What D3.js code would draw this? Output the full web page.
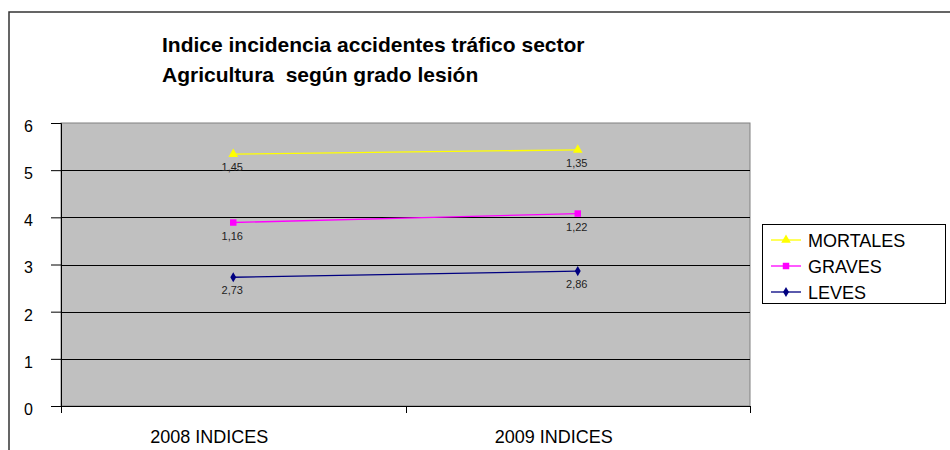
<!DOCTYPE html>
<html>
<head>
<meta charset="utf-8">
<script src="https://cdn.jsdelivr.net/npm/d3@7"></script>
<style>
  body { margin: 0; background: #fff; }
  text { font-family: "Liberation Sans", Arial, sans-serif; }
</style>
</head>
<body>
<svg id="chart" width="950" height="450"></svg>
<script>
// Categories and series (individual values, drawn stacked)
var years = ['2008 INDICES', '2009 INDICES'];
var leves = [2.73, 2.86];
var graves = [1.16, 1.22];
var mortales = [1.45, 1.35];
var yTicks = [0, 1, 2, 3, 4, 5, 6];

var seriesNames = ['LEVES', 'GRAVES', 'MORTALES'];
var seriesColors = {LEVES: '#000080', GRAVES: '#ff00ff', MORTALES: '#ffff00'};

var svg = d3.select('#chart');

// outer frame
svg.append('rect')
  .attr('x', 9).attr('y', 12)
  .attr('width', 960).attr('height', 460)
  .attr('fill', 'none')
  .attr('stroke', '#333').attr('stroke-width', 1.5);

// title
var title = svg.append('text')
  .style('font-size', '21px').style('font-weight', 'bold')
  .style('white-space', 'pre');
title.append('tspan').attr('x', 162).attr('y', 52).text('Indice incidencia accidentes tráfico sector');
title.append('tspan').attr('x', 162).attr('y', 82).text('Agricultura  según grado lesión');

var plot = {left: 61, top: 123, right: 750, bottom: 406};

// build the table the stack layout needs
var table = years.map(function(y, i) {
  return {year: y, LEVES: leves[i], GRAVES: graves[i], MORTALES: mortales[i]};
});
var stacked = d3.stack().keys(seriesNames)(table);

var scaleX = d3.scaleBand()
  .domain(years)
  .range([plot.left, plot.right]);
var scaleY = d3.scaleLinear()
  .domain([0, 6])
  .range([plot.bottom, plot.top]);

// plot background
svg.append('rect')
  .attr('x', plot.left).attr('y', plot.top)
  .attr('width', plot.right - plot.left).attr('height', plot.bottom - plot.top)
  .attr('fill', '#c0c0c0')
  .attr('stroke', '#808080').attr('stroke-width', 1);

// gridlines
svg.append('g')
  .selectAll('line')
  .data(yTicks.filter(function(d) { return d > 0 && d < 6; }))
  .enter().append('line')
  .attr('x1', plot.left).attr('x2', plot.right)
  .attr('y1', function(d) { return Math.round(scaleY(d)) + 0.5; })
  .attr('y2', function(d) { return Math.round(scaleY(d)) + 0.5; })
  .attr('stroke', '#000').attr('stroke-width', 1);

// y axis
var axisY = d3.axisLeft(scaleY).tickValues(yTicks).tickFormat(d3.format('d'))
  .tickSize(10).tickPadding(18);
var gY = svg.append('g').attr('transform', 'translate(' + plot.left + ',0)').call(axisY);
gY.select('.domain').attr('stroke', '#000');
gY.selectAll('line').attr('stroke', '#000');
gY.selectAll('text')
  .attr('dy', '0.53em')
  .attr('fill', '#000')
  .style('font-size', '16px')
  .style('font-family', '"Liberation Sans", Arial, sans-serif');

// x axis line, tick marks at category edges, and labels
svg.append('line')
  .attr('x1', plot.left).attr('x2', plot.right)
  .attr('y1', plot.bottom + 0.5).attr('y2', plot.bottom + 0.5)
  .attr('stroke', '#000');
var edges = [plot.left, (plot.left + plot.right) / 2, plot.right];
svg.append('g').selectAll('line')
  .data(edges).enter().append('line')
  .attr('x1', function(d) { return Math.round(d) + 0.5; })
  .attr('x2', function(d) { return Math.round(d) + 0.5; })
  .attr('y1', plot.bottom).attr('y2', plot.bottom + 7)
  .attr('stroke', '#000');
svg.append('g').selectAll('text')
  .data(years).enter().append('text')
  .attr('x', function(d) { return scaleX(d) + scaleX.bandwidth() / 2 - 24; })
  .attr('y', 443)
  .attr('text-anchor', 'middle')
  .style('font-size', '18px')
  .text(function(d) { return d; });

// series lines
var cx = function(d) { return scaleX(d.data.year) + scaleX.bandwidth() / 2; };
var line = d3.line()
  .x(cx)
  .y(function(d) { return scaleY(d[1]); });

var symbols = {MORTALES: d3.symbolTriangle, GRAVES: d3.symbolSquare, LEVES: d3.symbolDiamond};
var symSize = {MORTALES: 40, GRAVES: 42, LEVES: 30};

stacked.forEach(function(s) {
  var name = s.key;
  svg.append('path')
    .datum(s)
    .attr('d', line)
    .attr('fill', 'none')
    .attr('stroke', seriesColors[name])
    .attr('stroke-width', 1.3);
  svg.append('g').selectAll('path')
    .data(s).enter().append('path')
    .attr('d', d3.symbol().type(symbols[name]).size(symSize[name]))
    .attr('transform', function(d) { return 'translate(' + cx(d) + ',' + scaleY(d[1]) + ')'; })
    .attr('fill', seriesColors[name]);
  svg.append('g').selectAll('text')
    .data(s).enter().append('text')
    .attr('x', function(d) { return cx(d) - 1; })
    .attr('y', function(d) { return scaleY(d[1]) + 17; })
    .attr('text-anchor', 'middle')
    .style('font-size', '11px')
    .attr('fill', '#222')
    .text(function(d) { return d3.format('.2f')(d[1] - d[0]).replace('.', ','); });
});

// legend
var legend = svg.append('g').attr('transform', 'translate(762,224)');
legend.append('rect')
  .attr('x', 0.5).attr('y', 0.5)
  .attr('width', 183).attr('height', 79)
  .attr('fill', '#fff').attr('stroke', '#000');
var legendOrder = ['MORTALES', 'GRAVES', 'LEVES'];
legendOrder.forEach(function(name, i) {
  var y = 16 + i * 26;
  legend.append('line')
    .attr('x1', 9).attr('x2', 39)
    .attr('y1', y).attr('y2', y)
    .attr('stroke', seriesColors[name]).attr('stroke-width', 1.3);
  legend.append('path')
    .attr('d', d3.symbol().type(symbols[name]).size(symSize[name]))
    .attr('transform', 'translate(24,' + y + ')')
    .attr('fill', seriesColors[name]);
  legend.append('text')
    .attr('x', 46).attr('y', y + 6.5)
    .style('font-size', '18px')
    .text(name);
});
</script>
</body>
</html>
